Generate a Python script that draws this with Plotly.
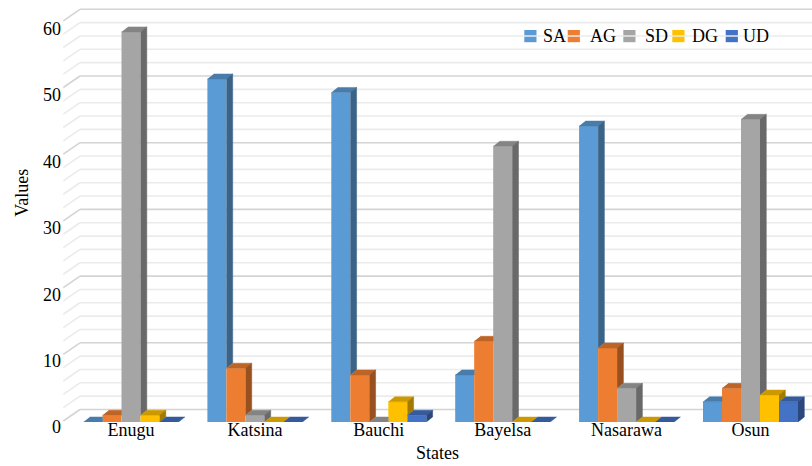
import plotly.graph_objects as go

# ---- data -------------------------------------------------------------
states = ["Enugu", "Katsina", "Bauchi", "Bayelsa", "Nasarawa", "Osun"]
series_names = ["SA", "AG", "SD", "DG", "UD"]
sa = [0, 51, 49, 7, 44, 3]
ag = [1, 8, 7, 12, 11, 5]
sd = [58, 1, 0, 41, 5, 45]
dg = [1, 0, 3, 0, 0, 4]
ud = [0, 0, 1, 0, 0, 3]
y_ticks = [0, 10, 20, 30, 40, 50, 60]
grid_step = 2

series = [sa, ag, sd, dg, ud]
front_colors = ["#5B9BD5", "#ED7D31", "#A5A5A5", "#FFC000", "#4472C4"]

# ---- layout geometry --------------------------------------------------
W, H = 812, 466
M_L, M_R, M_T, M_B = 62, 0, 5, 44
PW, PH = W - M_L - M_R, H - M_T - M_B
X_RANGE = [-0.557, 5.4964]
Y_RANGE = [0, 62]
PX_X = PW / (X_RANGE[1] - X_RANGE[0])   # pixels per category unit
PX_Y = PH / (Y_RANGE[1] - Y_RANGE[0])   # pixels per value unit

BARGAP = 0.233
BW = (1 - BARGAP) / len(series)

# depth of the 3-D columns (screen offset of the back edge)
DX = 6.3 / PX_X
DY = 5.0 / PX_Y

# back wall / perspective of the value axis
WALL_LIFT = 12.5 / PX_Y
WALL_SCALE = 6.67 / PX_Y
SLANT_DY = 11.5 / PX_Y
X_FRONT = X_RANGE[0] + 1.3 / PX_X
X_WALL = X_RANGE[0] + 18.0 / PX_X
LABEL_SCALE = 6.64 / PX_Y
LABEL_SHIFT = 5

FONT = "Liberation Serif"


def shade(hex_color, k):
    h = hex_color.lstrip("#")
    r, g, b = (int(h[i:i + 2], 16) for i in (0, 2, 4))
    return "rgb({},{},{})".format(int(r * k), int(g * k), int(b * k))


fig = go.Figure()

# front faces of the columns
for j, (name, vals) in enumerate(zip(series_names, series)):
    fig.add_trace(go.Bar(
        x=list(range(len(states))), y=vals, name=name,
        width=BW, offset=(j - 2.5) * BW,
        marker=dict(color=front_colors[j], line=dict(width=0)),
        showlegend=False, hoverinfo="skip",
    ))

# top and side faces, clipped where the neighbouring column hides them
for j, vals in enumerate(series):
    nxt = series[j + 1] if j + 1 < len(series) else None
    tx, ty, sx, sy = [], [], [], []
    for i, h in enumerate(vals):
        xl = i + (j - 2.5) * BW
        xr = xl + BW
        h1 = nxt[i] if nxt is not None else None
        if h1 is None or h1 < h:
            pts = [(xl, h), (xr, h), (xr + DX, h + DY), (xl + DX, h + DY)]
        else:
            p1 = (xr, min(h1, h + DY))
            p2 = (xr + max(0.0, h + DY - h1) / DY * DX, h + DY)
            pts = [(xl, h), (xr, h), p1, p2, (xl + DX, h + DY)]
        for px, py in pts:
            tx.append(px)
            ty.append(py)
        tx.append(None)
        ty.append(None)
        base = 0 if h1 is None else h1
        if h > base:
            for px, py in [(xr, base), (xr + DX, base + DY),
                           (xr + DX, h + DY), (xr, h)]:
                sx.append(px)
                sy.append(py)
            sx.append(None)
            sy.append(None)
    top_c = shade(front_colors[j], 0.8)
    side_c = shade(front_colors[j], 0.64)
    fig.add_trace(go.Scatter(x=tx, y=ty, mode="lines", fill="toself",
                             fillcolor=top_c, line=dict(color=top_c, width=0.5),
                             showlegend=False, hoverinfo="skip"))
    if sx:
        fig.add_trace(go.Scatter(x=sx, y=sy, mode="lines", fill="toself",
                                 fillcolor=side_c, line=dict(color=side_c, width=0.5),
                                 showlegend=False, hoverinfo="skip"))

# gridlines on the back wall with the slanted side-wall segment
shapes = []
for g in range(y_ticks[0], y_ticks[-1] + 1, grid_step):
    major = g % 10 == 0
    col = "#D4D4D4" if major else "#EBEBEB"
    yb = WALL_LIFT + WALL_SCALE * g
    shapes.append(dict(type="line", xref="x", yref="y", layer="below",
                       x0=X_FRONT, y0=yb - SLANT_DY, x1=X_WALL, y1=yb,
                       line=dict(color=col, width=1.6)))
    shapes.append(dict(type="line", xref="x", yref="y", layer="below",
                       x0=X_WALL, y0=yb, x1=X_RANGE[1], y1=yb,
                       line=dict(color=col, width=1.6)))


def xp(px):
    return (px - M_L) / PW


def yp(py):
    return (H - M_B - py) / PH


# legend
annotations = []
shapes.append(dict(type="rect", xref="paper", yref="paper", layer="below",
                   x0=xp(520.5), x1=xp(754), y0=yp(49.5), y1=yp(22.5),
                   fillcolor="white", line=dict(width=0)))
sq_left = [524.3, 567.7, 623.3, 672.3, 725.7]
txt_left = [541.7, 589.0, 644.0, 690.7, 742.3]
for j, name in enumerate(series_names):
    shapes.append(dict(type="rect", xref="paper", yref="paper", layer="below",
                       x0=xp(sq_left[j]), x1=xp(sq_left[j] + 12.2),
                       y0=yp(42.2), y1=yp(30.0),
                       fillcolor=front_colors[j], line=dict(width=0)))
    annotations.append(dict(text=name, xref="paper", yref="paper",
                            x=xp(txt_left[j]), y=yp(36.5),
                            xanchor="left", yanchor="middle", showarrow=False,
                            xshift=-1, font=dict(family=FONT, size=18, color="black")))

# axis titles
annotations.append(dict(text="Values", xref="paper", yref="paper",
                        x=xp(21.7), y=yp(193), textangle=-90,
                        xanchor="center", yanchor="middle", showarrow=False,
                        font=dict(family=FONT, size=18, color="black")))
annotations.append(dict(text="States", xref="paper", yref="paper",
                        x=xp(437), y=yp(453),
                        xanchor="center", yanchor="middle", showarrow=False,
                        font=dict(family=FONT, size=18, color="black")))

fig.update_layout(
    width=W, height=H,
    margin=dict(l=M_L, r=M_R, t=M_T, b=M_B),
    paper_bgcolor="white", plot_bgcolor="white",
    barmode="overlay", hovermode=False,
    showlegend=False,
    shapes=shapes, annotations=annotations,
    font=dict(family=FONT, size=18, color="black"),
    xaxis=dict(range=X_RANGE, tickvals=list(range(len(states))), ticktext=states,
               ticklabelstandoff=-5,
               showgrid=False, zeroline=False, showline=False, ticks="",
               tickfont=dict(family=FONT, size=18, color="black"), fixedrange=True),
    yaxis=dict(range=Y_RANGE, tickvals=[g * LABEL_SCALE for g in y_ticks],
               ticktext=[str(g) for g in y_ticks], ticklabelshift=LABEL_SHIFT,
               showgrid=False, zeroline=False, showline=False, ticks="",
               tickfont=dict(family=FONT, size=18, color="black"), fixedrange=True),
)

fig.write_html("out.html", config={"displayModeBar": False})
